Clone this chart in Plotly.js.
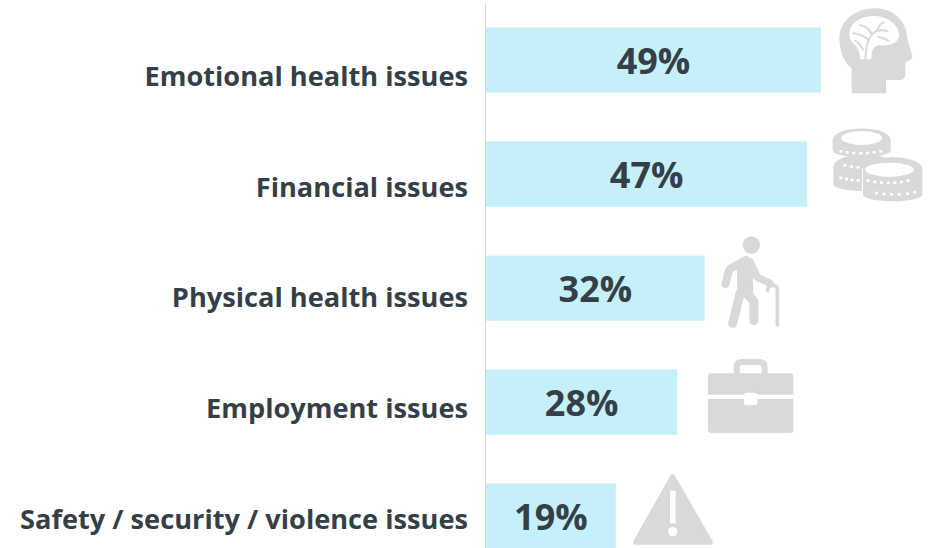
<!DOCTYPE html>
<html>
<head>
<meta charset="utf-8">
<script src="https://cdn.plot.ly/plotly-3.0.1.min.js"></script>
<style>html,body{margin:0;padding:0;background:#fff;overflow:hidden}#chart{width:936px;height:548px}</style>
</head>
<body>
<div id="chart"></div>
<script>
const categories = ["Emotional health issues","Financial issues","Physical health issues","Employment issues","Safety / security / violence issues"];
const shares = [49,47,32,28,19];

const ICON = "#d9d9d9", BAR = "#c5eff9", INK = "#353f47";
const W = 936, H = 548, L = 486, T = 3;

const brain = `<path fill="${ICON}" d="M155 280V205C130 185 118 150 118 115C118 60 170 25 225 25C285 25 322 68 322 118L337 168Q338 180 316 186V222Q316 240 296 240H258V280Z"/>
<path fill="#fff" d="M148 102C146 72 180 50 215 48C262 45 297 75 297 106C298 130 268 138 240 136C222 135 214 148 214 178H181C180 152 170 138 158 128C150 120 149 112 148 102Z"/>
<g fill="none" stroke="${ICON}" stroke-width="6" stroke-linecap="round"><path d="M196 178C198 145 200 125 215 105C225 90 240 88 262 93"/><path d="M205 118C190 108 175 100 160 100"/><path d="M215 104C210 90 200 80 180 75"/><path d="M232 92C235 80 240 72 250 68"/><path d="M190 150C182 135 175 128 165 122"/><path d="M235 110C245 112 255 118 265 122"/></g>`;

const coinSide = (cx, cy, rx, h) => `<path fill="${ICON}" d="M${cx-rx} ${cy}V${cy+h}C${cx-rx} ${cy+h+28} ${cx+rx} ${cy+h+28} ${cx+rx} ${cy+h}V${cy}Z"/><ellipse cx="${cx}" cy="${cy}" rx="${rx}" ry="${rx*0.4}" fill="${ICON}"/>`;
const dots = (xs, y0, dy) => xs.map((x,i)=>`<rect x="${x}" y="${y0+dy[i]}" width="9" height="8" fill="#fff"/>`).join("");
const coins = coinSide(192,500,92,52) + dots([118,135,152,170],530,[0,3,6,7]) + dots([130,150,170],492,[0,4,6])
 + coinSide(185,420,87,30)
 + dots([118,137,157,178,198,218,238],450,[0,3,5,6,5,3,0]) + `<ellipse cx="185" cy="414" rx="61" ry="21" fill="#fff"/>`
 + `<path d="M186 505H368V594C368 629 186 629 186 594Z" fill="#fff"/>`
 + coinSide(278,507,89,76) + dots([200,220,240,260,280,300,320],538,[0,4,6,7,6,4,0]) + dots([225,247,270,293,318,340],575,[0,3,4,4,2,-2])
 + `<ellipse cx="268" cy="509" rx="73" ry="21" fill="#fff"/>`;

const person = `<circle cx="394" cy="45" r="26" fill="${ICON}"/>
<g fill="none" stroke="${ICON}" stroke-linecap="round" stroke-linejoin="round"><path stroke-width="24" d="M378 90L328 118L316 162"/><path stroke-width="22" d="M390 95L412 142L450 160"/><path stroke-width="48" d="M374 104L376 180"/><path stroke-width="27" d="M360 190L338 280"/><path stroke-width="27" d="M378 185L402 215V272"/><path stroke-width="11" d="M443 182C440 165 472 158 472 178V285"/></g>`;

const briefcase = `<rect x="264" y="430" width="256" height="179" rx="9" fill="${ICON}"/><rect x="264" y="494" width="256" height="13" fill="#fff"/>
<path fill="none" stroke="${ICON}" stroke-width="18" d="M350 432V412Q350 396 366 396H418Q434 396 434 412V432"/><rect x="372" y="488" width="40" height="38" rx="8" fill="#fff"/><rect x="372" y="480" width="40" height="7" fill="${ICON}"/>`;

const warning = `<path fill="${ICON}" stroke="${ICON}" stroke-width="14" stroke-linejoin="round" d="M158 739L46 937H272Z"/><rect x="150" y="782" width="17" height="98" fill="#fff"/><circle cx="158" cy="905" r="14" fill="#fff"/>`;

// Each icon: markup, crop box on a 3x grid, and that grid's page origin.
function iconImage(inner, zx, zy, zw, zh, ox, oy) {
  const svg = `<svg xmlns="http://www.w3.org/2000/svg" viewBox="${zx} ${zy} ${zw} ${zh}" width="${zw}" height="${zh}">${inner}</svg>`;
  const px = ox + zx/3, py = oy + zy/3, pw = zw/3, ph = zh/3;
  return {
    source: "data:image/svg+xml;charset=utf-8," + encodeURIComponent(svg),
    xref: "paper", yref: "paper",
    x: (px-L)/(W-L), y: 1-(py-T)/(H-T),
    sizex: pw/(W-L), sizey: ph/(H-T),
    xanchor: "left", yanchor: "top", sizing: "stretch", layer: "above"
  };
}

const traces = [
  {
    type: "bar", orientation: "h",
    x: shares, y: categories, xaxis: "x", yaxis: "y",
    width: 0.572,
    marker: {color: BAR, line: {width: 0}},
    text: shares.map(v => v + "%"),
    textposition: "inside", insidetextanchor: "middle", textangle: 0,
    constraintext: "none",
    insidetextfont: {family: "Open Sans", size: 36, color: INK, weight: 700},
    hoverinfo: "skip"
  },
  {
    type: "scatter", mode: "none",
    x: shares, y: categories, xaxis: "x", yaxis: "y2",
    hoverinfo: "skip", showlegend: false
  }
];

const layout = {
  width: W, height: H,
  margin: {l: L, r: 0, t: T, b: 0, pad: 0},
  paper_bgcolor: "#fff", plot_bgcolor: "#fff",
  showlegend: false,
  xaxis: {range: [0, 65.85], visible: false, fixedrange: true},
  yaxis: {
    type: "category", categoryorder: "array", categoryarray: categories,
    range: [4.28, -0.5], showticklabels: false, ticks: "",
    showgrid: false, zeroline: false, showline: true, linecolor: "#d9d9d9", linewidth: 1, fixedrange: true
  },
  yaxis2: {
    type: "category", categoryorder: "array", categoryarray: categories,
    overlaying: "y", side: "left", anchor: "x",
    range: [4.258, -0.663], ticks: "", ticklabelstandoff: 17,
    tickfont: {family: "Open Sans", size: 27.2, color: INK, weight: 700},
    showgrid: false, zeroline: false, showline: false, fixedrange: true
  },
  images: [
    iconImage(brain, 110, 15, 235, 275, 800, 0),
    iconImage(coins, 90, 370, 285, 245, 800, 0),
    iconImage(person, 295, 10, 195, 290, 620, 230),
    iconImage(briefcase, 255, 380, 275, 235, 620, 230),
    iconImage(warning, 30, 725, 258, 228, 620, 230)
  ]
};

Plotly.newPlot("chart", traces, layout, {displayModeBar: false, staticPlot: true});
</script>
</body>
</html>
